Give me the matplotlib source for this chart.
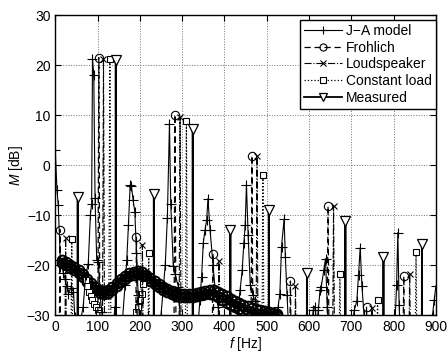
import matplotlib
matplotlib.use('Agg')
import matplotlib.pyplot as plt
import numpy as np

plt.rcParams['font.family'] = ['Liberation Sans', 'DejaVu Sans']
plt.rcParams['font.size'] = 10
plt.rcParams['mathtext.fontset'] = 'custom'
plt.rcParams['mathtext.it'] = 'Liberation Sans:italic'
plt.rcParams['mathtext.rm'] = 'Liberation Sans'

# J-A model
ja_f = [0, 4, 7, 12, 19, 23, 27, 31, 37, 43, 46, 52, 60, 66, 72, 78, 83, 86, 88, 91, 94, 98,
        102, 106, 110, 118, 130, 141, 150, 158, 165, 169, 173, 177, 180, 184, 188, 192, 196,
        200, 210, 220, 228, 240, 250, 256, 260, 265, 270, 273, 279, 283, 291, 298, 310, 325,
        335, 342, 346, 350, 354, 358, 361, 366, 373, 379, 385, 392, 410, 425, 432, 437, 442,
        446, 449, 452, 456, 461, 467, 473, 480, 505, 518, 522, 527, 531, 535, 541, 544, 548,
        553, 580, 600, 606, 610, 613, 615, 618, 622, 626, 629, 635, 639, 643, 648, 680, 700,
        707, 713, 717, 721, 725, 730, 736, 770, 795, 803, 807, 810, 813, 818, 860, 885, 892,
        896, 900]
ja_M = [3, -5, -8, -19, -21.5, -22.7, -24.2, -25.7, -24.5, -25.3, -30.3, -34, -31, -28.3,
        -22, -19.7, -10, -7.7, 21.3, 18, -6.6, -19, -19.3, -26, -29.3, -38, -40, -28.3, -35,
        -32, -24, -19, -12, -4, -4.2, -7, -9.3, -17.5, -26, -33, -38, -30, -36, -32, -30,
        -24, -20, -10.5, 8.3, -7.7, -20.2, -21.7, -24.3, -34, -40, -30, -35, -27, -22.3,
        -15.5, -13, -11, -6.7, -13, -19.9, -26, -28.3, -36, -40, -33, -29, -25, -21, -15.5,
        -12, -3.9, -14, -23.9, -26, -27.2, -35, -40, -33, -31, -28.3, -25.7, -16.3, -10.8,
        -18.3, -26, -35, -40, -33, -32, -29, -28.3, -28.9, -32, -29, -25, -24.3, -21, -18.7,
        -28.3, -36, -40, -33, -29, -27.2, -22, -16.5, -24.1, -30, -38, -40, -35, -32, -24,
        -13.5, -28, -38, -40, -34, -30, -27, -24.2]

# Frohlich
fro_f = [9, 11, 13, 100, 103, 106, 189, 192, 195, 280, 283, 286, 370, 373, 376,
         462, 465, 468, 553, 556, 559, 642, 645, 648, 733, 736, 739, 821, 824, 827]
fro_M = [-45, -12.9, -45, -45, 21.5, -45, -45, -14.3, -45, -45, 10.1, -45, -45, -17.7, -45,
         -45, 1.9, -45, -45, -23.2, -45, -45, -8.2, -45, -45, -28.3, -45, -45, -22.2, -45]

# Loudspeaker
ls_f = [22, 24.5, 27, 111, 114, 117, 203, 206, 209, 292, 295, 298, 384, 387, 390,
        474, 477, 480, 565, 568, 571, 655, 658, 661, 746, 749, 752, 835, 838, 841]
ls_M = [-45, -14.5, -45, -45, 21.3, -45, -45, -15.9, -45, -45, 9.6, -45, -45, -19.2, -45,
        -45, 1.9, -45, -45, -24.2, -45, -45, -8.2, -45, -45, -28.5, -45, -45, -21.7, -45]

# Constant load
cl_f = [36, 39, 42, 126, 129, 132, 218, 221, 224, 307, 310, 313, 397, 400, 403,
        488, 491, 494, 580, 583, 586, 670, 673, 676, 759, 762, 765, 850, 853, 856]
cl_M = [-45, -14.7, -45, -45, 21.2, -45, -45, -17.5, -45, -45, 8.8, -45, -45, -33, -45,
        -45, -2.0, -45, -45, -33, -45, -45, -21.7, -45, -45, -26.9, -45, -45, -17.4, -45]

# Measured
meas_f = [52.5, 53, 53.5, 142.5, 143, 143.5, 232.5, 233, 233.5, 324.5, 325, 325.5,
          413.5, 414, 414.5, 504.5, 505, 505.5, 594.5, 595, 595.5, 685.5, 686, 686.5,
          775.5, 776, 776.5, 866.5, 867, 867.5]
meas_M = [-45, -6.3, -45, -45, 21.1, -45, -45, -5.8, -45, -45, 7.3, -45, -45, -12.9, -45,
          -45, -8.9, -45, -45, -21.5, -45, -45, -11.2, -45, -45, -18.4, -45, -45, -15.7, -45]

# low level floor (dense points)
band_f = [15, 25, 35, 45, 55, 65, 75, 85, 95, 105, 115, 125, 135, 145, 155, 165, 175, 185,
          195, 205, 215, 225, 235, 245, 255, 265, 275, 285, 295, 305, 315, 325, 335, 345,
          355, 365, 375, 385, 395, 405, 415, 425, 435, 445, 455, 465, 475, 485, 495, 505,
          515, 525]
band_fro = [-19.0, -19.4, -19.9, -20.4, -21.0, -21.8, -22.7, -23.6, -24.4, -25.0, -25.2,
            -25.0, -24.4, -23.6, -22.8, -22.1, -21.6, -21.3, -21.2, -21.4, -21.9, -22.5,
            -23.1, -23.7, -24.3, -24.8, -25.2, -25.5, -25.7, -25.8, -25.8, -25.7, -25.5,
            -25.3, -25.1, -25.0, -25.0, -25.3, -25.7, -26.2, -26.7, -27.1, -27.5, -27.9,
            -28.2, -28.5, -28.8, -29.0, -29.2, -29.4, -29.6, -29.8]
band_ls = [-19.6, -20.0, -20.5, -21.0, -21.6, -22.4, -23.3, -24.2, -25.0, -25.6, -25.8,
           -25.6, -25.0, -24.2, -23.4, -22.7, -22.2, -21.9, -21.8, -22.0, -22.5, -23.1,
           -23.7, -24.3, -24.9, -25.4, -25.8, -26.1, -26.3, -26.4, -26.4, -26.3, -26.1,
           -25.9, -25.8, -25.8, -25.9, -26.3, -26.9, -27.5, -28.0, -28.4, -28.8, -29.1,
           -29.3, -29.5, -29.7, -29.8, -29.9, -30.0, -30.1, -30.2]

# constant load tails
cl_t1_f = [72, 76, 80, 84, 88, 92, 96, 100, 104]
cl_t1_M = [-23.0, -24.2, -25.3, -26.2, -27.0, -27.7, -28.3, -28.9, -29.5]
cl_t2_f = [208, 204, 200, 196, 192]
cl_t2_M = [-23.7, -25.7, -27.0, -28.3, -29.3]

fig = plt.figure(figsize=(4.48, 3.52), dpi=100)
ax = fig.add_axes([0.1234, 0.105, 0.8496, 0.852])

k = 'k'
# floor
ax.plot(band_f, band_fro, '-o', color=k, lw=1.5, ms=7, mfc='none', mew=1.4)
ax.plot(band_f, band_ls, '-o', color=k, lw=1.5, ms=7, mfc='none', mew=1.4)
ax.plot(band_f, band_ls, 'x', color=k, ms=5, mew=1.0)
ax.plot(cl_t1_f, cl_t1_M, ':s', color=k, lw=0.8, ms=4, mfc='white', mew=0.7)
ax.plot(cl_t2_f, cl_t2_M, ':s', color=k, lw=0.8, ms=4, mfc='white', mew=0.7)

ax.plot(ja_f, ja_M, '-+', color=k, lw=0.8, ms=7, mew=0.8, label='J\u2212A model')
ax.plot(fro_f, fro_M, '--o', color=k, lw=0.9, ms=6, mfc='none', mew=0.8, label='Frohlich',
        dashes=(5, 3))
ax.plot(ls_f, ls_M, '-.x', color=k, lw=0.8, ms=5, mew=0.8, label='Loudspeaker')
ax.plot(cl_f, cl_M, ':s', color=k, lw=0.9, ms=5, mfc='white', mew=0.8, label='Constant load')
ax.plot(meas_f, meas_M, '-v', color=k, lw=1.3, ms=7, mfc='white', mew=0.9, label='Measured')

ax.set_xlim(0, 900)
ax.set_ylim(-30, 30)
ax.set_xticks(np.arange(0, 901, 100))
ax.set_yticks(np.arange(-30, 31, 10))
ax.grid(True, linestyle=':', color='0.45', lw=0.7)
ax.tick_params(direction='in', top=True, right=True, length=4, width=0.8, labelsize=10)
for s in ax.spines.values():
    s.set_linewidth(1.0)
ax.set_xlabel('$f$ [Hz]', labelpad=1)
ax.set_ylabel('$M$ [dB]', labelpad=1)

leg = ax.legend(loc='upper right', bbox_to_anchor=(1.0, 0.985), borderaxespad=0,
                fancybox=False, framealpha=1, edgecolor='k', handlelength=2.7,
                handletextpad=0.3, labelspacing=0.2, borderpad=0.3, fontsize=10,
                markerscale=0.85)
leg.get_frame().set_linewidth(1.0)

plt.savefig('out.png', dpi=100)
